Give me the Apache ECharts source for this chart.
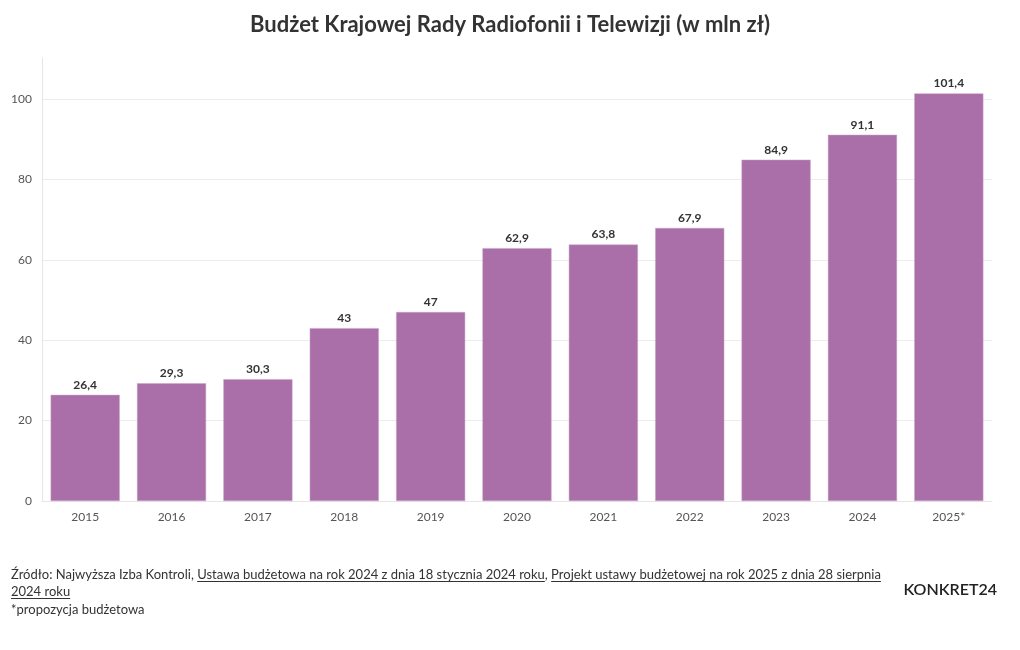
<!DOCTYPE html>
<html><head><meta charset="utf-8">
<script src="https://cdn.jsdelivr.net/npm/echarts@6/dist/echarts.min.js"></script>
<style>html,body{margin:0;padding:0;background:#fff}#c{width:1020px;height:650px}</style>
</head><body><div id="c"></div>
<script>
const categories = ['2015','2016','2017','2018','2019','2020','2021','2022','2023','2024','2025*'];
const values = [26.4, 29.3, 30.3, 43, 47, 62.9, 63.8, 67.9, 84.9, 91.1, 101.4];
const yTicks = [0, 20, 40, 60, 80, 100];
const title = 'Budżet Krajowej Rady Radiofonii i Telewizji (w mln zł)';
const sourceParts = [
  {t: 'Źródło: Najwyższa Izba Kontroli, ', u: false},
  {t: 'Ustawa budżetowa na rok 2024 z dnia 18 stycznia 2024 roku', u: true},
  {t: ', ', u: false},
  {t: 'Projekt ustawy budżetowej na rok 2025 z dnia 28 sierpnia', u: true}
];
const sourceLine2 = '2024 roku';
const note = '*propozycja budżetowa';
const logo = 'KONKRET24';

const FONT = '"Lato", sans-serif';
const chart = echarts.init(document.getElementById('c'), null, {renderer: 'canvas'});

const ctx = document.createElement('canvas').getContext('2d');
ctx.font = '13px ' + FONT;
const graphics = [];
let x = 11;
sourceParts.forEach(p => {
  const w = ctx.measureText(p.t).width;
  graphics.push({type: 'text', left: x, top: 568, style: {text: p.t, font: '13px ' + FONT, fill: '#333'}});
  if (p.u) graphics.push({type: 'line', shape: {x1: x, y1: 581.5, x2: x + w, y2: 581.5}, style: {stroke: '#333', lineWidth: 1}});
  x += w;
});
const w2 = ctx.measureText(sourceLine2).width;
graphics.push({type: 'text', left: 11, top: 585, style: {text: sourceLine2, font: '13px ' + FONT, fill: '#333'}});
graphics.push({type: 'line', shape: {x1: 11, y1: 598.5, x2: 11 + w2, y2: 598.5}, style: {stroke: '#333', lineWidth: 1}});
graphics.push({type: 'text', left: 11, top: 603, style: {text: note, font: '13px ' + FONT, fill: '#333'}});
graphics.push({type: 'text', right: 23, top: 582, style: {text: logo, font: '600 16px ' + FONT, fill: '#222'}});

chart.setOption({
  animation: false,
  title: {text: title, left: 'center', top: 9, textStyle: {fontFamily: FONT, fontSize: 22, fontWeight: 'bold', color: '#333'}},
  grid: {left: 42, right: 28, top: 58, bottom: 149, containLabel: false},
  xAxis: {
    type: 'category', data: categories,
    axisLine: {show: true, lineStyle: {color: '#e6e6e6'}},
    axisTick: {show: false},
    axisLabel: {fontFamily: FONT, fontSize: 12, color: '#555', margin: 10}
  },
  yAxis: {
    type: 'value', min: 0, max: 110.2, interval: 20,
    axisLine: {show: true, lineStyle: {color: '#e6e6e6'}},
    axisTick: {show: false},
    axisLabel: {fontFamily: FONT, fontSize: 12, color: '#555', margin: 10, showMaxLabel: false,
      formatter: v => yTicks.includes(v) ? String(v) : ''},
    splitLine: {show: true, showMaxLine: false, lineStyle: {color: '#ececec'}}
  },
  series: [{
    type: 'bar', data: values, barCategoryGap: '20%',
    itemStyle: {color: '#aa6fa9', borderColor: '#c9a3c8', borderWidth: 0.5},
    label: {show: true, position: 'top', distance: 4, fontFamily: FONT, fontSize: 12, fontWeight: 'bold', color: '#333',
      formatter: p => String(p.value).replace('.', ',')}
  }],
  graphic: graphics
});
</script></body></html>
